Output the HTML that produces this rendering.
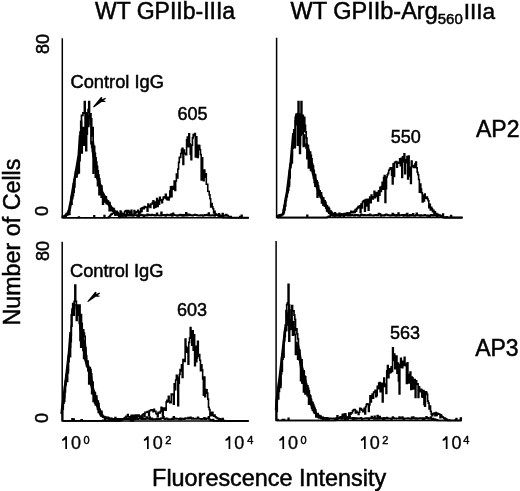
<!DOCTYPE html>
<html><head><meta charset="utf-8"><style>
html,body{margin:0;padding:0;background:#fff;}
body{width:520px;height:491px;overflow:hidden;position:relative;}
svg{position:absolute;left:0;top:0;filter:blur(0.4px);}
text{font-family:"Liberation Sans",sans-serif;fill:#000;stroke:#000;}
</style></head><body>
<svg width="520" height="491" viewBox="0 0 520 491">
<g fill="none" stroke="#000" stroke-width="1.5" stroke-linecap="square">
<path d="M62.3 38.9V217.7H248.3"/>
<path d="M276.6 38.5V217.6H462.1"/>
<path d="M62.2 242.5V420.9H247.7"/>
<path d="M276.1 241.8V420.5H461.1"/>
</g>
<g fill="none" stroke="#000" stroke-linejoin="miter">
<path stroke-width="1.7" d="M62.50 217.70V217.24H63.23V216.41H63.96V216.73H64.69V216.01H65.42V215.04H66.15V213.72H66.88V214.88H67.61V214.39H68.34V214.31H69.07V214.43H69.80V207.69H70.53V204.51H71.26V204.05H71.99V196.53H72.72V195.35H73.45V192.05H74.18V186.81H74.91V177.24H75.64V176.91H76.37V176.56H77.10V164.40H77.83V161.25H78.56V172.84H79.29V157.34H80.02V139.29H80.75V137.52H81.48V115.40H82.21V115.51H82.94V112.91H83.67V113.16H84.40V101.50H85.13V112.97H85.86V115.93H86.59V123.55H87.32V113.02H88.05V109.60H88.78V101.50H89.51V118.02H90.24V124.29H90.97V143.60H91.70V146.78H92.43V151.60H93.16V155.54H93.89V160.02H94.62V167.20H95.35V177.07H96.08V173.73H96.81V177.98H97.54V185.66H98.27V183.03H99.00V194.74H99.73V193.27H100.46V190.09H101.19V197.11H101.92V195.49H102.65V204.07H103.38V196.17H104.11V201.86H104.84V198.56H105.57V200.41H106.30V202.66H107.03V201.98H107.76V203.59H108.49V204.27H109.22V210.68H109.95V209.39H110.68V209.54H111.41V210.59H112.14V209.98H112.87V211.14H113.60V211.36H114.33V212.03H115.06V214.68H115.79V214.34H116.52V214.20H117.25V214.61H117.98V214.92H118.71V215.05H119.44V215.10H120.17V213.81H120.90V215.19H121.63V215.90H122.36V214.98H123.09V215.97H123.82V214.67H124.55V215.69H125.28V215.00H126.01V215.64H126.74V213.93H127.47V215.53H128.20V214.88H128.93V215.68H129.66V215.62H130.39V213.47H131.12V214.82H131.85V215.19H132.58V215.41H133.31V215.67H134.04V215.28H134.77V215.22H135.50V215.21H136.23V215.06H136.96V215.96H137.69V215.00H138.42V215.14H139.15V214.91H139.88V215.01H140.61V215.49H141.34V214.98H142.07V214.94H142.80V215.46H143.53V216.08H144.26V215.51H144.99V215.16H145.72V215.53H146.45V215.53H147.18V214.29H147.91V215.28H148.64V214.70H149.37V215.09H150.10V215.21H150.83V215.29H151.56V214.57H152.29V215.12H153.02V214.75H153.75V215.07H154.48V215.57H155.21V215.74H155.94V215.09H156.67V213.39H157.40V215.26H158.13V215.42H158.86V215.34H159.59V215.60H160.32V215.69H161.05V212.45H161.78V215.24H162.51V215.39H163.24V214.92H163.97V215.39H164.70V214.97H165.43V216.02H166.16V215.06H166.89V214.68H167.62V215.27H168.35V215.46H169.08V214.80H169.81V215.29H170.54V214.65H171.27V214.22H172.00V215.81H172.73V213.31H173.46V214.66H174.19V215.00H174.92V215.20H175.65V215.43H176.38V215.36H177.11V215.91H177.84V215.16H178.57V215.22H179.30V215.40H180.03V214.71H180.76V215.01H181.49V215.64H182.22V214.84H182.95V215.89H183.68V214.85H184.41V215.36H185.14V215.68H185.87V212.93H186.60V215.63H187.33V215.32H188.06V214.24H188.79V215.26H189.52V214.53H190.25V215.50H190.98V215.03H191.71V215.03H192.44V215.60H193.17V215.26H193.90V215.14H194.63V214.50H195.36V215.23H196.09V214.78H196.82V215.43H197.55V215.43H198.28V215.58H199.01V215.34H199.74V215.63H200.47V215.19H201.20V215.20H201.93V215.13H202.66V216.00H203.39V215.46H204.12V215.27H204.85V214.76H205.58V215.46H206.31V215.06H207.04V214.61H207.77V215.35H208.50V213.22H209.23V215.62H209.96V215.31H210.69V215.53H211.42V215.12H212.15V215.33H212.88V215.19H213.61V215.40H214.34V215.90H215.07V214.66H215.80V214.94H216.53V215.27H217.26V215.24H217.99V215.20H218.72V213.95H219.45V215.43H220.18V215.96H220.91V215.24H221.64V215.76H222.37V213.52H223.10V215.27H223.83V215.58H224.56V215.59H225.29V215.27H226.02V214.67H226.75V215.62H227.48V215.65H228.21V216.63H228.94V217.52H229.67V216.83H230.40V216.60H231.13V217.67H231.86V217.65H232.59V217.70H233.32V217.70H234.05V217.70H234.78V217.70H235.51V217.70H236.24V217.70H236.97V217.70H237.70V217.70H238.43V217.70H239.16V217.70H239.89V216.49H240.62V217.70H241.35V217.70H242.08V217.70H242.81V217.70H243.54V217.70H244.27V217.70H245.00V217.70H245.73V217.70H246.46V217.70H247.19V217.70H247.92V217.70H248.65V217.70"/>
<path stroke-width="1.7" d="M62.50 217.70V216.47H63.23V216.53H63.96V216.43H64.69V215.48H65.42V215.71H66.15V214.82H66.88V214.60H67.61V212.71H68.34V210.83H69.07V210.27H69.80V205.37H70.53V204.15H71.26V196.69H71.99V198.66H72.72V192.37H73.45V183.80H74.18V179.49H74.91V176.84H75.64V171.27H76.37V173.47H77.10V173.59H77.83V158.55H78.56V161.58H79.29V160.60H80.02V132.20H80.75V121.25H81.48V152.97H82.21V136.99H82.94V127.53H83.67V145.24H84.40V132.24H85.13V113.81H85.86V150.60H86.59V134.03H87.32V115.37H88.05V126.49H88.78V116.99H89.51V114.54H90.24V113.73H90.97V118.82H91.70V135.80H92.43V127.68H93.16V173.25H93.89V146.44H94.62V153.25H95.35V157.83H96.08V162.14H96.81V166.44H97.54V170.75H98.27V175.05H99.00V178.77H99.73V184.94H100.46V186.73H101.19V186.07H101.92V193.53H102.65V193.54H103.38V197.54H104.11V196.25H104.84V198.67H105.57V196.78H106.30V203.75H107.03V201.14H107.76V200.99H108.49V202.75H109.22V202.53H109.95V206.59H110.68V209.04H111.41V207.89H112.14V208.49H112.87V208.34H113.60V208.99H114.33V212.69H115.06V215.12H115.79V211.73H116.52V212.99H117.25V212.96H117.98V214.04H118.71V214.43H119.44V214.62H120.17V215.24H120.90V215.17H121.63V215.79H122.36V214.83H123.09V214.44H123.82V215.75H124.55V215.25H125.28V214.95H126.01V217.70"/>
<path stroke-width="1.6" d="M62.50 217.70V217.70H63.23V217.70H63.96V217.70H64.69V217.70H65.42V216.45H66.15V217.70H66.88V217.70H67.61V217.70H68.34V217.70H69.07V217.70H69.80V217.70H70.53V217.70H71.26V217.70H71.99V217.70H72.72V217.70H73.45V217.70H74.18V217.70H74.91V217.70H75.64V217.70H76.37V217.70H77.10V217.70H77.83V217.70H78.56V217.08H79.29V217.70H80.02V217.70H80.75V217.70H81.48V217.70H82.21V217.70H82.94V217.70H83.67V217.70H84.40V217.70H85.13V217.70H85.86V217.70H86.59V217.70H87.32V217.70H88.05V217.70H88.78V217.70H89.51V217.70H90.24V217.70H90.97V217.70H91.70V217.70H92.43V217.70H93.16V217.70H93.89V215.75H94.62V217.70H95.35V217.70H96.08V217.70H96.81V217.70H97.54V217.70H98.27V217.70H99.00V217.70H99.73V217.70H100.46V217.70H101.19V217.70H101.92V217.70H102.65V217.70H103.38V217.70H104.11V215.55H104.84V217.70H105.57V217.70H106.30V217.70H107.03V217.70H107.76V217.70H108.49V217.10H109.22V216.43H109.95V215.44H110.68V214.64H111.41V214.15H112.14V213.54H112.87V213.45H113.60V211.42H114.33V211.79H115.06V213.18H115.79V211.63H116.52V211.22H117.25V212.45H117.98V215.23H118.71V217.35H119.44V216.97H120.17V210.97H120.90V212.21H121.63V213.48H122.36V213.65H123.09V213.60H123.82V213.60H124.55V211.47H125.28V210.93H126.01V210.65H126.74V213.13H127.47V211.79H128.20V210.61H128.93V212.48H129.66V213.18H130.39V211.87H131.12V210.35H131.85V215.63H132.58V215.59H133.31V214.54H134.04V210.52H134.77V213.63H135.50V212.72H136.23V212.02H136.96V211.74H137.69V210.34H138.42V216.25H139.15V211.68H139.88V212.96H140.61V208.45H141.34V211.46H142.07V207.79H142.80V207.43H143.53V208.71H144.26V206.48H144.99V207.51H145.72V207.01H146.45V207.02H147.18V211.15H147.91V204.08H148.64V205.30H149.37V206.71H150.10V207.37H150.83V204.04H151.56V203.94H152.29V202.67H153.02V200.82H153.75V208.06H154.48V202.16H155.21V207.27H155.94V205.81H156.67V198.63H157.40V206.47H158.13V200.36H158.86V204.10H159.59V197.26H160.32V200.52H161.05V199.76H161.78V202.61H162.51V199.47H163.24V197.15H163.97V197.83H164.70V196.71H165.43V194.20H166.16V198.80H166.89V199.72H167.62V197.22H168.35V199.85H169.08V197.42H169.81V190.97H170.54V186.70H171.27V196.81H172.00V186.45H172.73V189.32H173.46V188.98H174.19V181.13H174.92V190.35H175.65V180.93H176.38V174.14H177.11V177.83H177.84V169.04H178.57V162.39H179.30V157.29H180.03V157.41H180.76V153.50H181.49V149.56H182.22V148.22H182.95V164.34H183.68V150.13H184.41V153.66H185.14V153.30H185.87V154.74H186.60V139.69H187.33V137.11H188.06V146.66H188.79V133.72H189.52V144.03H190.25V154.11H190.98V159.62H191.71V145.17H192.44V137.86H193.17V134.65H193.90V135.82H194.63V133.66H195.36V156.92H196.09V136.79H196.82V148.70H197.55V157.47H198.28V145.33H199.01V145.49H199.74V149.59H200.47V154.56H201.20V180.04H201.93V157.76H202.66V178.08H203.39V180.72H204.12V169.97H204.85V177.18H205.58V173.88H206.31V184.31H207.04V184.29H207.77V191.32H208.50V191.57H209.23V194.91H209.96V198.80H210.69V207.02H211.42V203.50H212.15V206.92H212.88V208.82H213.61V213.01H214.34V211.36H215.07V214.63H215.80V213.98H216.53V215.04H217.26V215.06H217.99V216.03H218.72V215.22H219.45V216.43H220.18V216.83H220.91V216.21H221.64V216.59H222.37V216.59H223.10V217.70H223.83V217.53H224.56V217.41H225.29V217.56H226.02V217.70H226.75V217.70H227.48V217.70H228.21V217.70H228.94V217.70H229.67V217.70H230.40V217.70H231.13V217.70H231.86V217.70H232.59V217.70H233.32V217.70H234.05V217.70H234.78V217.70H235.51V217.70H236.24V217.70H236.97V217.70H237.70V217.70H238.43V217.70H239.16V217.70H239.89V217.70H240.62V217.70H241.35V215.42H242.08V217.70H242.81V217.70H243.54V217.70H244.27V217.70H245.00V217.70H245.73V217.70H246.46V217.70H247.19V217.70H247.92V217.70H248.65V217.70"/>
<path stroke-width="1.7" d="M277.00 217.60V216.56H277.73V216.13H278.46V216.22H279.19V215.50H279.92V214.87H280.65V215.62H281.38V214.64H282.11V214.38H282.84V212.91H283.57V212.48H284.30V209.94H285.03V205.90H285.76V199.78H286.49V195.54H287.22V192.90H287.95V190.04H288.68V186.39H289.41V177.97H290.14V167.63H290.87V163.50H291.60V155.98H292.33V145.86H293.06V141.00H293.79V146.51H294.52V147.61H295.25V121.01H295.98V114.47H296.71V124.60H297.44V145.14H298.17V101.50H298.90V122.57H299.63V153.39H300.36V135.25H301.09V101.50H301.82V133.97H302.55V131.69H303.28V146.45H304.01V135.00H304.74V145.50H305.47V144.94H306.20V148.06H306.93V158.69H307.66V149.49H308.39V167.81H309.12V156.62H309.85V165.68H310.58V170.49H311.31V169.37H312.04V170.76H312.77V174.43H313.50V178.24H314.23V182.50H314.96V186.14H315.69V185.64H316.42V186.57H317.15V197.23H317.88V192.40H318.61V191.90H319.34V194.31H320.07V196.83H320.80V197.03H321.53V202.79H322.26V201.03H322.99V205.09H323.72V204.61H324.45V206.19H325.18V205.71H325.91V208.12H326.64V210.81H327.37V211.52H328.10V211.59H328.83V213.18H329.56V212.09H330.29V213.72H331.02V214.41H331.75V214.97H332.48V215.26H333.21V215.02H333.94V215.44H334.67V212.76H335.40V214.66H336.13V214.11H336.86V214.57H337.59V214.91H338.32V215.17H339.05V213.36H339.78V215.47H340.51V214.50H341.24V214.31H341.97V215.46H342.70V215.29H343.43V216.12H344.16V213.52H344.89V215.28H345.62V215.40H346.35V214.97H347.08V215.09H347.81V215.15H348.54V213.89H349.27V215.06H350.00V215.57H350.73V215.26H351.46V214.87H352.19V215.11H352.92V215.00H353.65V215.74H354.38V215.53H355.11V214.96H355.84V214.89H356.57V215.03H357.30V214.77H358.03V215.62H358.76V215.58H359.49V215.84H360.22V215.22H360.95V214.46H361.68V214.84H362.41V214.92H363.14V215.38H363.87V214.93H364.60V214.99H365.33V215.11H366.06V215.42H366.79V215.22H367.52V215.17H368.25V214.95H368.98V215.32H369.71V214.40H370.44V215.15H371.17V215.43H371.90V215.50H372.63V215.43H373.36V215.64H374.09V215.19H374.82V215.11H375.55V214.97H376.28V215.18H377.01V215.30H377.74V215.30H378.47V213.63H379.20V213.77H379.93V214.41H380.66V215.99H381.39V215.07H382.12V215.12H382.85V215.04H383.58V215.65H384.31V215.04H385.04V214.85H385.77V214.29H386.50V214.64H387.23V214.93H387.96V215.25H388.69V215.19H389.42V215.59H390.15V215.57H390.88V215.34H391.61V214.98H392.34V213.68H393.07V215.39H393.80V214.63H394.53V215.05H395.26V215.53H395.99V215.78H396.72V214.92H397.45V215.50H398.18V213.22H398.91V215.74H399.64V215.01H400.37V215.24H401.10V215.07H401.83V214.84H402.56V214.95H403.29V215.84H404.02V215.21H404.75V214.74H405.48V214.56H406.21V215.84H406.94V213.56H407.67V215.58H408.40V215.80H409.13V215.71H409.86V214.95H410.59V215.53H411.32V214.90H412.05V215.35H412.78V213.79H413.51V215.57H414.24V215.97H414.97V215.51H415.70V214.99H416.43V213.46H417.16V215.32H417.89V215.20H418.62V215.03H419.35V215.62H420.08V215.81H420.81V215.14H421.54V215.52H422.27V215.58H423.00V215.64H423.73V215.35H424.46V214.74H425.19V215.23H425.92V215.42H426.65V215.94H427.38V215.40H428.11V215.36H428.84V216.46H429.57V215.95H430.30V215.45H431.03V214.78H431.76V215.20H432.49V215.75H433.22V215.72H433.95V215.73H434.68V215.39H435.41V215.73H436.14V215.18H436.87V216.17H437.60V215.29H438.33V215.61H439.06V215.39H439.79V215.53H440.52V216.39H441.25V216.36H441.98V216.92H442.71V217.37H443.44V217.39H444.17V217.60H444.90V217.60H445.63V217.60H446.36V217.60H447.09V217.60H447.82V217.60H448.55V217.60H449.28V217.60H450.01V217.60H450.74V215.65H451.47V217.60H452.20V217.60H452.93V217.60H453.66V217.60H454.39V217.60H455.12V217.60H455.85V217.60H456.58V217.60H457.31V217.60H458.04V217.60H458.77V217.60H459.50V217.60H460.23V217.60H460.96V217.60H461.69V217.60H462.42V217.60"/>
<path stroke-width="1.7" d="M277.00 217.60V216.24H277.73V216.15H278.46V216.47H279.19V216.18H279.92V215.45H280.65V215.61H281.38V214.58H282.11V214.63H282.84V214.25H283.57V209.31H284.30V205.94H285.03V201.15H285.76V197.07H286.49V196.34H287.22V191.35H287.95V182.27H288.68V184.52H289.41V170.55H290.14V164.69H290.87V158.28H291.60V162.66H292.33V148.26H293.06V134.89H293.79V129.93H294.52V141.61H295.25V117.01H295.98V115.80H296.71V114.68H297.44V113.55H298.17V143.78H298.90V113.75H299.63V144.50H300.36V114.75H301.09V129.00H301.82V128.86H302.55V115.25H303.28V131.26H304.01V117.42H304.74V125.28H305.47V131.85H306.20V138.05H306.93V146.63H307.66V145.27H308.39V151.17H309.12V152.32H309.85V152.04H310.58V155.32H311.31V158.88H312.04V164.19H312.77V165.99H313.50V170.41H314.23V174.43H314.96V175.03H315.69V186.04H316.42V180.86H317.15V182.63H317.88V186.10H318.61V195.10H319.34V190.74H320.07V192.75H320.80V192.83H321.53V198.21H322.26V199.15H322.99V197.94H323.72V202.35H324.45V200.77H325.18V202.36H325.91V205.67H326.64V205.85H327.37V208.54H328.10V207.36H328.83V208.61H329.56V212.67H330.29V211.11H331.02V211.74H331.75V213.08H332.48V213.73H333.21V214.24H333.94V214.85H334.67V215.92H335.40V215.40H336.13V214.83H336.86V214.82H337.59V215.24H338.32V215.83H339.05V214.82H339.78V215.05H340.51V217.60"/>
<path stroke-width="1.6" d="M277.00 217.60V217.60H277.73V217.60H278.46V215.10H279.19V217.60H279.92V217.60H280.65V217.60H281.38V217.60H282.11V217.60H282.84V217.60H283.57V217.60H284.30V217.60H285.03V217.60H285.76V217.60H286.49V217.60H287.22V217.60H287.95V217.60H288.68V217.60H289.41V217.60H290.14V217.60H290.87V217.60H291.60V217.60H292.33V217.60H293.06V217.60H293.79V217.60H294.52V217.60H295.25V217.60H295.98V217.60H296.71V217.60H297.44V217.60H298.17V217.60H298.90V217.60H299.63V217.60H300.36V217.60H301.09V217.60H301.82V217.60H302.55V217.60H303.28V217.60H304.01V217.60H304.74V217.60H305.47V217.60H306.20V217.60H306.93V215.25H307.66V217.60H308.39V217.60H309.12V217.60H309.85V217.60H310.58V217.60H311.31V217.60H312.04V217.60H312.77V217.60H313.50V217.60H314.23V217.60H314.96V217.60H315.69V217.60H316.42V217.60H317.15V217.60H317.88V217.60H318.61V217.60H319.34V217.60H320.07V217.60H320.80V217.60H321.53V217.60H322.26V217.60H322.99V217.60H323.72V217.60H324.45V217.60H325.18V217.60H325.91V217.60H326.64V217.38H327.37V217.30H328.10V216.61H328.83V216.19H329.56V216.25H330.29V214.62H331.02V215.33H331.75V215.25H332.48V215.64H333.21V215.84H333.94V215.38H334.67V215.79H335.40V215.06H336.13V214.95H336.86V215.65H337.59V214.53H338.32V214.82H339.05V214.54H339.78V214.25H340.51V213.77H341.24V214.34H341.97V214.45H342.70V214.17H343.43V214.38H344.16V214.13H344.89V214.53H345.62V213.58H346.35V213.54H347.08V212.71H347.81V215.61H348.54V213.24H349.27V214.78H350.00V212.69H350.73V211.27H351.46V211.43H352.19V212.75H352.92V212.66H353.65V211.27H354.38V212.42H355.11V209.67H355.84V211.19H356.57V208.89H357.30V207.91H358.03V206.63H358.76V207.69H359.49V205.69H360.22V212.45H360.95V204.16H361.68V208.02H362.41V201.97H363.14V200.99H363.87V200.61H364.60V211.22H365.33V199.44H366.06V205.91H366.79V203.60H367.52V199.29H368.25V210.21H368.98V200.67H369.71V197.10H370.44V202.68H371.17V195.10H371.90V196.71H372.63V198.99H373.36V197.39H374.09V191.35H374.82V197.60H375.55V193.05H376.28V196.28H377.01V192.48H377.74V201.03H378.47V190.91H379.20V195.19H379.93V187.21H380.66V191.53H381.39V186.45H382.12V182.18H382.85V189.31H383.58V177.59H384.31V175.48H385.04V202.55H385.77V188.60H386.50V177.02H387.23V174.80H387.96V173.38H388.69V170.29H389.42V169.28H390.15V167.71H390.88V167.68H391.61V175.32H392.34V183.84H393.07V163.89H393.80V176.44H394.53V162.41H395.26V162.72H395.99V161.49H396.72V167.17H397.45V162.25H398.18V162.33H398.91V163.18H399.64V158.72H400.37V165.71H401.10V158.19H401.83V177.56H402.56V156.70H403.29V161.98H404.02V153.87H404.75V173.77H405.48V162.74H406.21V159.76H406.94V156.62H407.67V178.89H408.40V156.12H409.13V167.32H409.86V175.89H410.59V183.46H411.32V161.08H412.05V166.77H412.78V165.58H413.51V167.44H414.24V167.15H414.97V163.81H415.70V161.96H416.43V167.87H417.16V172.21H417.89V174.71H418.62V179.56H419.35V192.31H420.08V184.12H420.81V188.98H421.54V192.83H422.27V202.02H423.00V195.40H423.73V200.92H424.46V193.99H425.19V198.03H425.92V198.09H426.65V197.17H427.38V198.96H428.11V200.75H428.84V207.64H429.57V204.33H430.30V209.94H431.03V207.23H431.76V208.79H432.49V211.71H433.22V210.21H433.95V214.71H434.68V211.82H435.41V213.44H436.14V213.62H436.87V214.43H437.60V214.18H438.33V215.33H439.06V215.04H439.79V215.43H440.52V215.84H441.25V216.39H441.98V216.46H442.71V214.04H443.44V217.39H444.17V217.31H444.90V217.57H445.63V217.60H446.36V216.80H447.09V217.60H447.82V217.60H448.55V217.60H449.28V217.60H450.01V217.60H450.74V217.60H451.47V217.60H452.20V217.60H452.93V217.60H453.66V217.60H454.39V217.60H455.12V217.60H455.85V217.60H456.58V217.60H457.31V217.60H458.04V217.60H458.77V217.60H459.50V217.60H460.23V217.60H460.96V217.60H461.69V217.60H462.42V217.60"/>
<path stroke-width="1.7" d="M62.50 420.90V408.81H63.23V403.25H63.96V397.43H64.69V391.81H65.42V384.72H66.15V378.20H66.88V381.29H67.61V370.24H68.34V361.76H69.07V355.46H69.80V347.10H70.53V335.28H71.26V326.12H71.99V309.15H72.72V303.57H73.45V315.22H74.18V301.24H74.91V285.00H75.64V301.34H76.37V320.46H77.10V307.12H77.83V315.17H78.56V311.95H79.29V323.46H80.02V340.47H80.75V347.26H81.48V329.66H82.21V338.10H82.94V350.35H83.67V358.46H84.40V357.82H85.13V358.79H85.86V362.11H86.59V364.96H87.32V366.92H88.05V370.91H88.78V383.88H89.51V377.16H90.24V380.63H90.97V385.48H91.70V393.64H92.43V390.33H93.16V401.41H93.89V397.00H94.62V403.01H95.35V404.85H96.08V403.12H96.81V405.78H97.54V409.05H98.27V412.28H99.00V412.49H99.73V413.75H100.46V415.32H101.19V415.89H101.92V415.33H102.65V416.33H103.38V416.99H104.11V417.69H104.84V417.82H105.57V418.30H106.30V418.68H107.03V418.45H107.76V418.78H108.49V418.78H109.22V419.08H109.95V420.12H110.68V418.94H111.41V418.68H112.14V419.05H112.87V418.99H113.60V419.35H114.33V419.65H115.06V417.55H115.79V419.86H116.52V419.20H117.25V418.94H117.98V419.69H118.71V418.78H119.44V419.07H120.17V418.82H120.90V419.10H121.63V419.23H122.36V419.50H123.09V419.03H123.82V419.03H124.55V418.97H125.28V417.82H126.01V419.03H126.74V419.26H127.47V418.27H128.20V418.95H128.93V419.24H129.66V417.62H130.39V419.04H131.12V419.25H131.85V418.62H132.58V419.61H133.31V419.00H134.04V419.10H134.77V419.29H135.50V418.76H136.23V416.69H136.96V418.98H137.69V419.12H138.42V418.58H139.15V418.71H139.88V418.73H140.61V417.40H141.34V419.17H142.07V416.78H142.80V419.17H143.53V418.65H144.26V418.27H144.99V419.18H145.72V418.73H146.45V417.03H147.18V418.54H147.91V418.97H148.64V418.30H149.37V417.02H150.10V419.14H150.83V418.69H151.56V418.32H152.29V419.11H153.02V419.38H153.75V419.01H154.48V419.41H155.21V419.16H155.94V418.98H156.67V418.63H157.40V419.07H158.13V418.66H158.86V418.95H159.59V419.08H160.32V418.85H161.05V418.04H161.78V418.32H162.51V418.41H163.24V416.83H163.97V418.74H164.70V419.12H165.43V418.77H166.16V418.36H166.89V418.62H167.62V419.38H168.35V418.98H169.08V419.32H169.81V419.24H170.54V419.30H171.27V419.13H172.00V418.69H172.73V419.26H173.46V416.81H174.19V418.84H174.92V418.41H175.65V418.88H176.38V418.67H177.11V418.94H177.84V418.98H178.57V418.75H179.30V419.37H180.03V418.32H180.76V419.32H181.49V418.80H182.22V418.67H182.95V418.96H183.68V419.07H184.41V418.98H185.14V418.13H185.87V418.48H186.60V418.72H187.33V418.66H188.06V417.60H188.79V418.62H189.52V418.52H190.25V417.40H190.98V418.36H191.71V418.82H192.44V418.11H193.17V418.91H193.90V418.92H194.63V418.56H195.36V418.51H196.09V418.95H196.82V418.64H197.55V417.32H198.28V418.40H199.01V419.01H199.74V418.90H200.47V418.93H201.20V419.12H201.93V418.78H202.66V418.97H203.39V418.61H204.12V417.92H204.85V419.06H205.58V419.06H206.31V418.54H207.04V418.42H207.77V418.70H208.50V416.91H209.23V419.35H209.96V419.74H210.69V420.29H211.42V419.99H212.15V420.33H212.88V419.68H213.61V420.76H214.34V420.90H215.07V420.90H215.80V420.90H216.53V420.90H217.26V420.90H217.99V420.90H218.72V420.90H219.45V420.90H220.18V420.90H220.91V420.90H221.64V420.90H222.37V418.52H223.10V420.90H223.83V420.90H224.56V420.90H225.29V420.90H226.02V420.90H226.75V420.90H227.48V420.90H228.21V420.90H228.94V420.90H229.67V420.90H230.40V420.90H231.13V420.90H231.86V420.90H232.59V420.90H233.32V420.90H234.05V420.90H234.78V420.90H235.51V420.90H236.24V420.90H236.97V420.90H237.70V420.90H238.43V420.90H239.16V420.90H239.89V420.90H240.62V420.90H241.35V420.90H242.08V420.90H242.81V420.90H243.54V420.90H244.27V420.90H245.00V420.90H245.73V420.90H246.46V420.90H247.19V420.90H247.92V420.90H248.65V420.90"/>
<path stroke-width="1.7" d="M62.50 420.90V406.48H63.23V397.91H63.96V401.29H64.69V386.68H65.42V380.84H66.15V375.00H66.88V371.39H67.61V372.86H68.34V356.40H69.07V348.73H69.80V356.76H70.53V341.63H71.26V314.97H71.99V311.43H72.72V314.69H73.45V306.00H74.18V305.00H74.91V305.00H75.64V305.00H76.37V308.31H77.10V305.00H77.83V310.34H78.56V305.00H79.29V305.00H80.02V329.77H80.75V314.64H81.48V323.36H82.21V345.98H82.94V329.84H83.67V333.09H84.40V336.33H85.13V347.67H85.86V355.62H86.59V365.80H87.32V361.11H88.05V369.94H88.78V370.82H89.51V367.52H90.24V369.65H90.97V373.76H91.70V383.09H92.43V382.07H93.16V393.43H93.89V399.95H94.62V392.71H95.35V401.96H96.08V396.00H96.81V401.69H97.54V401.07H98.27V403.68H99.00V409.38H99.73V413.10H100.46V411.48H101.19V411.40H101.92V415.79H102.65V417.04H103.38V417.18H104.11V416.67H104.84V419.77H105.57V417.12H106.30V417.60H107.03V417.52H107.76V417.38H108.49V418.05H109.22V418.40H109.95V418.36H110.68V418.41H111.41V418.75H112.14V419.19H112.87V419.62H113.60V419.48H114.33V418.93H115.06V420.90"/>
<path stroke-width="1.6" d="M62.50 420.90V420.90H63.23V420.90H63.96V420.90H64.69V420.90H65.42V420.90H66.15V420.90H66.88V420.90H67.61V420.90H68.34V420.90H69.07V420.90H69.80V420.90H70.53V420.90H71.26V420.90H71.99V418.89H72.72V420.90H73.45V418.94H74.18V420.90H74.91V420.90H75.64V420.90H76.37V420.90H77.10V420.90H77.83V420.90H78.56V420.90H79.29V420.90H80.02V420.90H80.75V420.30H81.48V419.69H82.21V420.90H82.94V420.90H83.67V420.90H84.40V420.90H85.13V420.90H85.86V420.90H86.59V420.90H87.32V420.90H88.05V420.90H88.78V420.90H89.51V420.90H90.24V420.90H90.97V420.90H91.70V420.90H92.43V420.90H93.16V420.90H93.89V420.90H94.62V420.90H95.35V420.90H96.08V420.90H96.81V420.90H97.54V420.90H98.27V420.90H99.00V420.90H99.73V420.90H100.46V420.90H101.19V420.90H101.92V420.90H102.65V420.39H103.38V420.90H104.11V420.90H104.84V420.90H105.57V420.90H106.30V420.90H107.03V420.90H107.76V420.90H108.49V420.90H109.22V420.90H109.95V420.90H110.68V420.90H111.41V420.90H112.14V420.90H112.87V420.90H113.60V420.90H114.33V420.90H115.06V420.90H115.79V420.90H116.52V420.90H117.25V420.90H117.98V420.35H118.71V420.90H119.44V420.90H120.17V420.79H120.90V420.26H121.63V420.14H122.36V419.51H123.09V418.85H123.82V418.51H124.55V417.83H125.28V417.32H126.01V416.41H126.74V416.67H127.47V414.67H128.20V416.80H128.93V416.68H129.66V418.44H130.39V420.69H131.12V415.27H131.85V418.39H132.58V420.90H133.31V415.36H134.04V418.89H134.77V416.85H135.50V415.06H136.23V418.28H136.96V415.06H137.69V416.63H138.42V415.15H139.15V416.74H139.88V417.76H140.61V416.05H141.34V415.93H142.07V414.95H142.80V414.52H143.53V413.77H144.26V416.13H144.99V412.33H145.72V412.53H146.45V412.24H147.18V411.48H147.91V411.85H148.64V415.63H149.37V410.52H150.10V410.69H150.83V409.99H151.56V409.92H152.29V409.77H153.02V411.60H153.75V409.35H154.48V411.30H155.21V411.32H155.94V413.64H156.67V413.83H157.40V416.69H158.13V412.30H158.86V412.88H159.59V412.93H160.32V411.39H161.05V407.22H161.78V407.96H162.51V416.03H163.24V410.06H163.97V408.01H164.70V407.94H165.43V410.10H166.16V402.09H166.89V400.27H167.62V401.67H168.35V396.40H169.08V401.43H169.81V402.73H170.54V402.79H171.27V393.97H172.00V393.99H172.73V394.77H173.46V404.23H174.19V383.82H174.92V389.58H175.65V380.07H176.38V375.20H177.11V377.30H177.84V405.77H178.57V383.13H179.30V374.48H180.03V369.46H180.76V370.87H181.49V364.78H182.22V377.42H182.95V359.43H183.68V359.97H184.41V361.35H185.14V339.00H185.87V346.66H186.60V352.22H187.33V348.16H188.06V364.09H188.79V342.38H189.52V338.11H190.25V327.50H190.98V333.60H191.71V345.18H192.44V330.91H193.17V350.28H193.90V334.72H194.63V365.75H195.36V346.37H196.09V361.82H196.82V357.88H197.55V341.33H198.28V356.11H199.01V354.53H199.74V360.30H200.47V370.75H201.20V364.77H201.93V369.69H202.66V378.97H203.39V395.30H204.12V376.95H204.85V396.62H205.58V389.57H206.31V389.74H207.04V393.09H207.77V399.10H208.50V407.25H209.23V409.62H209.96V415.61H210.69V415.39H211.42V412.66H212.15V412.25H212.88V415.35H213.61V416.11H214.34V414.96H215.07V416.76H215.80V417.35H216.53V417.71H217.26V418.58H217.99V418.37H218.72V419.44H219.45V419.41H220.18V418.92H220.91V419.71H221.64V419.99H222.37V420.02H223.10V420.35H223.83V420.84H224.56V420.90H225.29V420.90H226.02V420.90H226.75V420.90H227.48V420.90H228.21V420.90H228.94V420.90H229.67V420.90H230.40V420.90H231.13V420.90H231.86V420.90H232.59V420.90H233.32V420.90H234.05V420.90H234.78V420.90H235.51V420.90H236.24V420.90H236.97V420.90H237.70V420.90H238.43V420.90H239.16V420.90H239.89V420.90H240.62V420.90H241.35V420.90H242.08V420.90H242.81V420.90H243.54V420.90H244.27V420.90H245.00V420.90H245.73V420.90H246.46V420.90H247.19V420.90H247.92V420.90H248.65V420.90"/>
<path stroke-width="1.7" d="M276.50 420.50V411.09H277.23V398.45H277.96V398.92H278.69V391.41H279.42V383.44H280.15V384.53H280.88V369.79H281.61V371.11H282.34V359.03H283.07V356.85H283.80V341.29H284.53V336.50H285.26V330.75H285.99V330.32H286.72V304.62H287.45V302.84H288.18V284.40H288.91V341.15H289.64V319.86H290.37V320.08H291.10V309.74H291.83V324.83H292.56V335.18H293.29V321.66H294.02V327.92H294.75V334.73H295.48V354.41H296.21V342.63H296.94V353.37H297.67V359.09H298.40V353.46H299.13V359.66H299.86V362.05H300.59V366.67H301.32V377.76H302.05V383.09H302.78V375.21H303.51V391.84H304.24V384.66H304.97V393.78H305.70V387.92H306.43V392.53H307.16V395.72H307.89V394.91H308.62V404.23H309.35V400.08H310.08V403.52H310.81V404.70H311.54V407.85H312.27V409.94H313.00V410.44H313.73V412.02H314.46V412.66H315.19V413.37H315.92V416.92H316.65V416.49H317.38V416.61H318.11V417.40H318.84V417.85H319.57V418.01H320.30V416.36H321.03V418.51H321.76V418.33H322.49V417.70H323.22V418.31H323.95V418.16H324.68V418.11H325.41V419.12H326.14V418.71H326.87V417.91H327.60V418.97H328.33V418.50H329.06V418.63H329.79V418.48H330.52V418.45H331.25V418.60H331.98V418.52H332.71V418.58H333.44V418.40H334.17V418.79H334.90V418.33H335.63V418.68H336.36V418.20H337.09V415.94H337.82V418.51H338.55V418.42H339.28V418.67H340.01V418.35H340.74V418.65H341.47V418.88H342.20V418.42H342.93V418.29H343.66V418.28H344.39V419.15H345.12V416.06H345.85V418.29H346.58V418.78H347.31V419.01H348.04V418.21H348.77V418.33H349.50V416.22H350.23V418.32H350.96V418.25H351.69V418.67H352.42V417.73H353.15V419.04H353.88V417.88H354.61V418.97H355.34V418.14H356.07V418.99H356.80V418.18H357.53V418.73H358.26V418.77H358.99V418.47H359.72V418.58H360.45V417.97H361.18V418.27H361.91V419.04H362.64V418.64H363.37V418.74H364.10V418.52H364.83V418.35H365.56V418.62H366.29V418.16H367.02V418.00H367.75V418.46H368.48V419.22H369.21V418.07H369.94V418.27H370.67V418.44H371.40V416.70H372.13V418.18H372.86V418.20H373.59V418.88H374.32V416.47H375.05V418.79H375.78V418.32H376.51V419.00H377.24V415.51H377.97V418.61H378.70V418.85H379.43V416.65H380.16V418.61H380.89V418.60H381.62V418.21H382.35V418.83H383.08V419.10H383.81V417.87H384.54V418.92H385.27V418.55H386.00V418.09H386.73V417.57H387.46V418.65H388.19V418.49H388.92V418.43H389.65V418.63H390.38V418.35H391.11V419.11H391.84V418.30H392.57V417.03H393.30V418.11H394.03V418.28H394.76V418.59H395.49V418.62H396.22V418.31H396.95V418.56H397.68V418.50H398.41V418.72H399.14V416.98H399.87V418.25H400.60V418.74H401.33V418.18H402.06V417.09H402.79V418.70H403.52V419.19H404.25V418.39H404.98V418.28H405.71V418.62H406.44V418.57H407.17V418.24H407.90V418.11H408.63V418.65H409.36V418.50H410.09V419.02H410.82V418.84H411.55V417.37H412.28V418.65H413.01V417.01H413.74V418.49H414.47V418.14H415.20V418.94H415.93V418.17H416.66V418.80H417.39V418.27H418.12V418.32H418.85V418.64H419.58V418.20H420.31V418.43H421.04V418.13H421.77V418.36H422.50V419.23H423.23V418.11H423.96V419.07H424.69V418.30H425.42V418.49H426.15V416.81H426.88V418.34H427.61V417.76H428.34V418.81H429.07V418.43H429.80V418.48H430.53V417.13H431.26V419.34H431.99V418.63H432.72V418.63H433.45V419.34H434.18V419.14H434.91V419.75H435.64V419.52H436.37V419.79H437.10V420.28H437.83V420.46H438.56V420.50H439.29V420.50H440.02V420.50H440.75V420.50H441.48V420.50H442.21V420.50H442.94V420.50H443.67V420.50H444.40V420.50H445.13V419.97H445.86V420.50H446.59V420.50H447.32V420.50H448.05V420.50H448.78V420.50H449.51V420.50H450.24V420.50H450.97V420.50H451.70V420.50H452.43V420.50H453.16V420.50H453.89V420.50H454.62V420.50H455.35V419.93H456.08V420.50H456.81V420.50H457.54V420.50H458.27V420.50H459.00V420.50H459.73V420.50H460.46V418.17H461.19V420.50"/>
<path stroke-width="1.7" d="M276.50 420.50V401.16H277.23V394.84H277.96V389.29H278.69V383.99H279.42V383.93H280.15V387.36H280.88V373.99H281.61V358.39H282.34V354.11H283.07V357.03H283.80V340.30H284.53V332.33H285.26V325.11H285.99V310.68H286.72V318.69H287.45V324.83H288.18V313.26H288.91V305.16H289.64V329.20H290.37V329.36H291.10V320.53H291.83V305.53H292.56V310.75H293.29V310.85H294.02V315.16H294.75V319.47H295.48V330.14H296.21V328.89H296.94V333.93H297.67V338.96H298.40V352.15H299.13V350.10H299.86V362.43H300.59V380.56H301.32V359.93H302.05V382.31H302.78V372.71H303.51V370.90H304.24V376.26H304.97V376.88H305.70V383.89H306.43V385.95H307.16V385.84H307.89V388.35H308.62V390.84H309.35V395.13H310.08V395.98H310.81V399.63H311.54V402.01H312.27V402.70H313.00V404.55H313.73V406.40H314.46V408.25H315.19V410.14H315.92V415.76H316.65V414.60H317.38V413.59H318.11V415.48H318.84V415.39H319.57V416.90H320.30V416.32H321.03V417.61H321.76V417.23H322.49V417.25H323.22V417.94H323.95V417.80H324.68V418.41H325.41V418.49H326.14V418.05H326.87V418.89H327.60V418.38H328.33V418.70H329.06V420.50"/>
<path stroke-width="1.6" d="M276.50 420.50V420.50H277.23V419.45H277.96V420.50H278.69V420.50H279.42V420.50H280.15V420.50H280.88V420.50H281.61V420.50H282.34V419.56H283.07V420.50H283.80V419.60H284.53V420.50H285.26V420.50H285.99V420.50H286.72V420.50H287.45V420.50H288.18V418.39H288.91V420.50H289.64V420.50H290.37V420.50H291.10V420.50H291.83V420.50H292.56V420.50H293.29V420.50H294.02V420.50H294.75V420.50H295.48V420.50H296.21V420.50H296.94V420.50H297.67V420.50H298.40V420.50H299.13V420.50H299.86V420.50H300.59V420.50H301.32V420.50H302.05V420.50H302.78V420.50H303.51V420.50H304.24V420.50H304.97V420.50H305.70V420.50H306.43V420.50H307.16V420.50H307.89V420.50H308.62V420.50H309.35V420.50H310.08V420.50H310.81V420.50H311.54V420.50H312.27V420.50H313.00V420.50H313.73V420.50H314.46V420.50H315.19V420.50H315.92V420.50H316.65V420.50H317.38V420.50H318.11V420.50H318.84V420.50H319.57V420.50H320.30V420.50H321.03V420.50H321.76V420.50H322.49V419.37H323.22V420.50H323.95V420.50H324.68V420.50H325.41V420.50H326.14V420.50H326.87V420.50H327.60V420.50H328.33V420.50H329.06V420.50H329.79V420.50H330.52V420.50H331.25V420.50H331.98V420.50H332.71V420.50H333.44V420.50H334.17V420.50H334.90V420.50H335.63V419.08H336.36V419.63H337.09V419.59H337.82V417.87H338.55V417.79H339.28V417.76H340.01V416.72H340.74V416.77H341.47V417.48H342.20V414.51H342.93V414.35H343.66V416.97H344.39V414.03H345.12V413.87H345.85V417.25H346.58V417.51H347.31V418.86H348.04V416.78H348.77V413.08H349.50V413.99H350.23V414.27H350.96V412.73H351.69V412.90H352.42V410.97H353.15V409.96H353.88V409.52H354.61V409.57H355.34V413.03H356.07V410.99H356.80V412.54H357.53V412.33H358.26V414.41H358.99V412.29H359.72V408.29H360.45V408.46H361.18V409.41H361.91V410.29H362.64V411.77H363.37V410.23H364.10V408.38H364.83V413.86H365.56V406.71H366.29V404.47H367.02V403.87H367.75V404.31H368.48V411.43H369.21V404.88H369.94V395.69H370.67V401.87H371.40V395.93H372.13V394.12H372.86V398.32H373.59V392.03H374.32V392.41H375.05V390.26H375.78V396.74H376.51V395.36H377.24V386.21H377.97V388.73H378.70V383.06H379.43V382.63H380.16V391.82H380.89V385.02H381.62V383.33H382.35V401.97H383.08V383.91H383.81V377.96H384.54V386.41H385.27V384.17H386.00V393.55H386.73V370.88H387.46V365.52H388.19V377.62H388.92V373.25H389.65V368.69H390.38V372.34H391.11V366.72H391.84V371.44H392.57V347.70H393.30V360.47H394.03V354.06H394.76V368.64H395.49V357.57H396.22V356.06H396.95V373.31H397.68V363.16H398.41V380.92H399.14V394.00H399.87V364.66H400.60V358.27H401.33V367.31H402.06V367.72H402.79V361.35H403.52V365.36H404.25V357.40H404.98V363.99H405.71V365.77H406.44V383.54H407.17V362.76H407.90V381.25H408.63V383.07H409.36V374.45H410.09V372.08H410.82V389.47H411.55V377.00H412.28V377.81H413.01V388.95H413.74V381.25H414.47V379.58H415.20V397.43H415.93V380.73H416.66V384.54H417.39V383.87H418.12V397.38H418.85V386.70H419.58V391.67H420.31V390.31H421.04V389.27H421.77V396.81H422.50V397.31H423.23V390.59H423.96V404.37H424.69V406.20H425.42V391.90H426.15V392.34H426.88V394.39H427.61V401.08H428.34V403.09H429.07V408.88H429.80V405.97H430.53V411.37H431.26V414.49H431.99V415.78H432.72V413.58H433.45V413.85H434.18V413.00H434.91V415.75H435.64V412.59H436.37V415.44H437.10V413.34H437.83V413.89H438.56V414.17H439.29V414.27H440.02V417.69H440.75V414.72H441.48V416.35H442.21V416.88H442.94V417.53H443.67V418.49H444.40V418.17H445.13V418.48H445.86V419.18H446.59V419.40H447.32V420.36H448.05V419.99H448.78V420.12H449.51V420.38H450.24V420.50H450.97V420.50H451.70V420.50H452.43V420.50H453.16V420.50H453.89V420.50H454.62V420.50H455.35V420.50H456.08V418.50H456.81V420.50H457.54V420.50H458.27V420.50H459.00V420.50H459.73V420.50H460.46V420.50H461.19V420.50"/>
<path stroke-width="2.4" stroke-linejoin="round" d="M67.50 214.00 L68.80 211.00 L70.80 201.00 L74.10 181.50 L76.50 168.00 L78.70 155.00 L80.00 135.00"/>
<path stroke-width="3.2" stroke-linejoin="round" d="M92.40 141.00 L93.90 155.00 L97.80 178.00 L101.80 192.00 L105.40 199.00 L109.40 205.00 L112.40 209.60 L116.40 213.50"/>
<path stroke-width="2.4" stroke-linejoin="round" d="M283.10 213.50 L287.00 191.70 L290.80 161.20 L293.30 133.00"/>
<path stroke-width="3.2" stroke-linejoin="round" d="M305.90 143.30 L309.20 153.50 L313.00 172.00 L318.10 189.70 L324.40 203.40 L329.60 212.30"/>
<path stroke-width="2.4" stroke-linejoin="round" d="M61.50 414.00 L62.50 405.00 L64.00 394.00 L66.50 374.00 L69.00 352.00 L70.50 332.00"/>
<path stroke-width="3.2" stroke-linejoin="round" d="M84.20 340.00 L85.80 360.00 L89.90 372.00 L92.40 388.00 L95.60 398.00 L98.40 408.00 L102.10 416.00"/>
<path stroke-width="2.4" stroke-linejoin="round" d="M276.00 410.00 L276.50 401.00 L280.00 374.50 L283.00 348.00 L285.30 327.30"/>
<path stroke-width="3.2" stroke-linejoin="round" d="M297.60 345.00 L302.00 369.00 L306.40 387.00 L310.80 402.00 L315.30 413.40"/>
</g>
<g fill="#000" stroke="none">
<path d="M93.00 106.70 L101.00 97.10 L102.30 97.20 L102.00 99.30 L105.20 97.70 L105.90 98.80 L103.40 100.50 L105.60 101.00 L105.20 102.10 L101.60 102.10 L93.90 107.40 Z"/>
<path d="M87.20 301.40 L95.20 291.80 L96.50 291.90 L96.20 294.00 L99.40 292.40 L100.10 293.50 L97.60 295.20 L99.80 295.70 L99.40 296.80 L95.80 296.80 L88.10 302.10 Z"/>
</g>
<g font-size="23" stroke-width="0.5">
<text x="95" y="19.1">WT GPIIb-IIIa</text>
<text x="290.6" y="18.5" font-size="23.5">WT GPIIb-Arg<tspan font-size="15" dy="5.6">560</tspan><tspan dy="-5.6" dx="1.0" font-size="22.6">IIIa</tspan></text>
<text x="476" y="136.6">AP2</text>
<text x="475.2" y="356">AP3</text>
<text x="152.1" y="485.8" font-size="23.4">Fluorescence Intensity</text>
<text transform="translate(19.8 325.6) rotate(-90)" font-size="23.3">Number of Cells</text>
</g>
<g font-size="18" fill="#000" stroke="#000" stroke-width="0.5">
<text x="70.5" y="88.3" font-size="18.3">Control IgG</text>
<text x="70.0" y="277" font-size="18.3">Control IgG</text>
<text x="177.5" y="120.2">605</text>
<text x="390.8" y="143.1">550</text>
<text x="177" y="316.2">603</text>
<text x="390.1" y="339">563</text>
<text transform="translate(48.5 54) rotate(-90)">80</text>
<text transform="translate(48.3 216) rotate(-90)">0</text>
<text transform="translate(48.5 261) rotate(-90)">80</text>
<text transform="translate(48.3 423) rotate(-90)">0</text>
<path stroke-width="0" d="M65.30 436.3L67.00 436.3L67.00 449L65.30 449L65.30 439.4Q64.00 440.5 62.20 441.1L62.20 439.3Q64.40 438.3 65.30 436.3Z"/><text x="71.01" y="449" stroke-width="0.35">0</text><text x="83.5" y="443.8" font-size="11" stroke-width="0.45">0</text>
<path stroke-width="0" d="M147.00 436.3L148.70 436.3L148.70 449L147.00 449L147.00 439.4Q145.70 440.5 143.90 441.1L143.90 439.3Q146.10 438.3 147.00 436.3Z"/><text x="152.71" y="449" stroke-width="0.35">0</text><text x="165.2" y="443.8" font-size="11" stroke-width="0.45">2</text>
<path stroke-width="0" d="M228.60 436.3L230.30 436.3L230.30 449L228.60 449L228.60 439.4Q227.30 440.5 225.50 441.1L225.50 439.3Q227.70 438.3 228.60 436.3Z"/><text x="234.31" y="449" stroke-width="0.35">0</text><text x="247.2" y="443.8" font-size="11" stroke-width="0.45">4</text>
<path stroke-width="0" d="M282.40 436.3L284.10 436.3L284.10 449L282.40 449L282.40 439.4Q281.10 440.5 279.30 441.1L279.30 439.3Q281.50 438.3 282.40 436.3Z"/><text x="288.11" y="449" stroke-width="0.35">0</text><text x="300.6" y="443.8" font-size="11" stroke-width="0.45">0</text>
<path stroke-width="0" d="M364.00 436.3L365.70 436.3L365.70 449L364.00 449L364.00 439.4Q362.70 440.5 360.90 441.1L360.90 439.3Q363.10 438.3 364.00 436.3Z"/><text x="369.71" y="449" stroke-width="0.35">0</text><text x="382.2" y="443.8" font-size="11" stroke-width="0.45">2</text>
<path stroke-width="0" d="M445.80 436.3L447.50 436.3L447.50 449L445.80 449L445.80 439.4Q444.50 440.5 442.70 441.1L442.70 439.3Q444.90 438.3 445.80 436.3Z"/><text x="451.51" y="449" stroke-width="0.35">0</text><text x="463.3" y="443.8" font-size="11" stroke-width="0.45">4</text>
</g>
</svg>
</body></html>
